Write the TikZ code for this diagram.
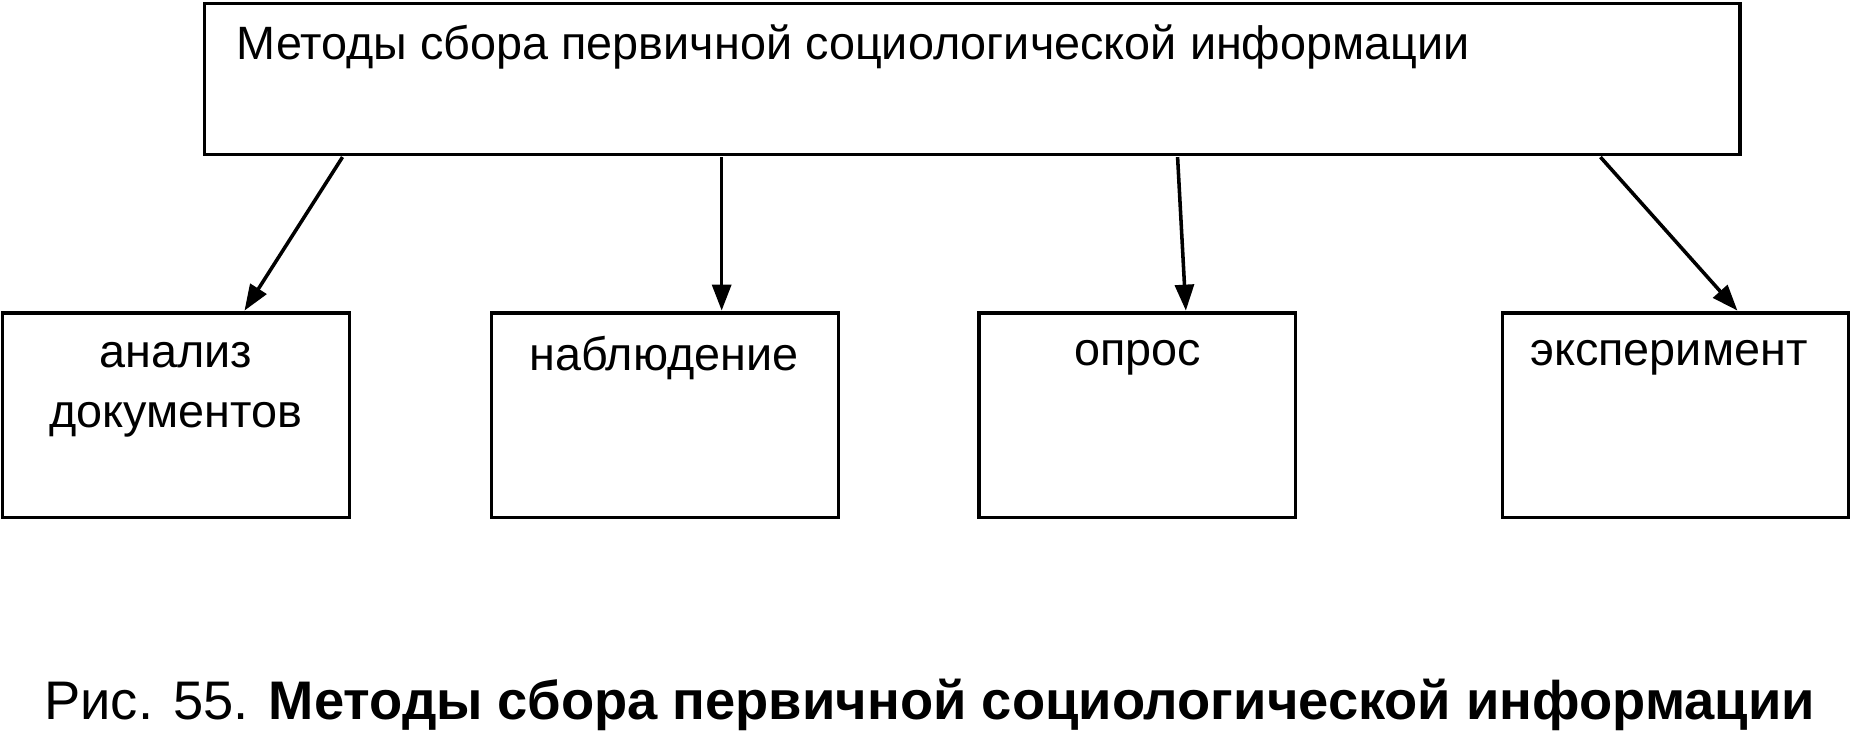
\documentclass[tikz,border=0pt]{standalone}
\usepackage{fontspec}
\setmainfont{Liberation Sans}
\usetikzlibrary{arrows.meta}
\begin{document}
\begin{tikzpicture}[x=0.5pt,y=-0.5pt,
  box/.style={draw,line width=1.5pt},
  arr/.style={line width=1.5pt,-{Triangle[length=11pt,width=8pt]}},
  lbl/.style={font=\fontsize{19.8}{25}\selectfont,align=center,inner sep=0pt}]
\useasboundingbox (0,0) rectangle (1568,619);
\draw[box] (173,3) rectangle (1473,131);
\draw[box] (2,265) rectangle (296,438);
\draw[box] (416,265) rectangle (710,438);
\draw[box] (829,265) rectangle (1097,438);
\draw[box] (1272,265) rectangle (1565,438);
\node[lbl,anchor=west] (top) at (200,40) {Методы сбора первичной социологической информации};
\node[lbl] (b1) at (149,330) {анализ\\документов};
\node[lbl] (b2) at (562,303) {наблюдение};
\node[lbl] (b3) at (963,303) {опрос};
\node[lbl] (b4) at (1413,303) {эксперимент};
\coordinate (s1) at (290,133); \coordinate (e1) at (207,263);
\coordinate (s2) at (611,133); \coordinate (e2) at (611,263);
\coordinate (s3) at (997,133); \coordinate (e3) at (1004,263);
\coordinate (s4) at (1355,133); \coordinate (e4) at (1471,263);
\foreach \i in {1,2,3,4} \draw[arr] (s\i) -- (e\i);
\node[font=\fontsize{23}{27}\selectfont,inner sep=0pt] (cap) at (787,597) {Рис. 55. \textbf{Методы сбора первичной социологической информации}};
\end{tikzpicture}
\end{document}
